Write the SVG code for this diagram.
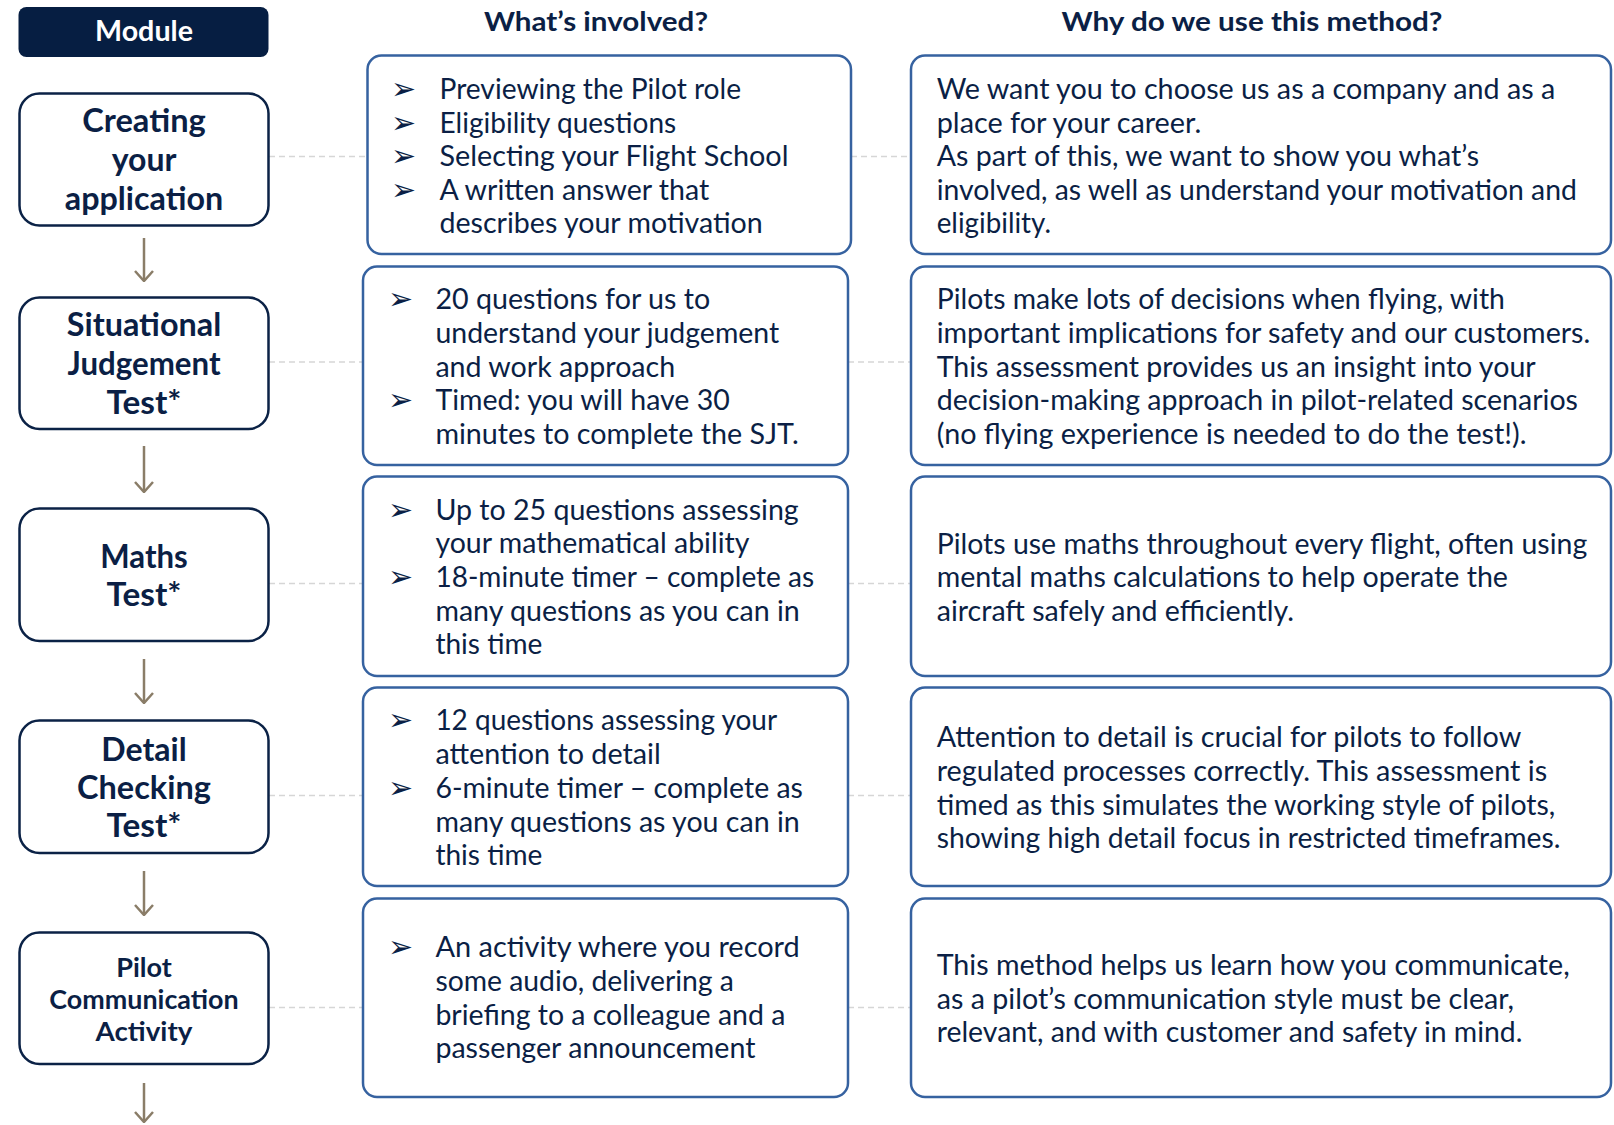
<svg xmlns="http://www.w3.org/2000/svg" width="1614" height="1125" viewBox="0 0 1614 1125">
<defs>
<style>
.bg{fill:#ffffff}
.mod{fill:#061e42}
.lbox{fill:#ffffff;stroke:#0b2246;stroke-width:2.5}
.cbox{fill:#ffffff;stroke:#3662a0;stroke-width:2.5}
.lt{font-family:Lato,"Open Sans","Liberation Sans",sans-serif;font-weight:700;fill:#0b1f45;text-anchor:middle;font-size:32px}
.lts{font-size:26px}
.hd{font-family:Lato,"Open Sans","Liberation Sans",sans-serif;font-weight:700;fill:#0b1f45;text-anchor:middle;font-size:27px}
.mt{font-family:Lato,"Open Sans","Liberation Sans",sans-serif;font-weight:700;fill:#ffffff;text-anchor:middle;font-size:28px}
.t{font-family:Lato,"Open Sans","Liberation Sans",sans-serif;fill:#0b1f45;font-size:28px}
.b{font-family:"DejaVu Sans",sans-serif;fill:#0b1f45;font-size:30px}
.dash{stroke:#d6d6d6;stroke-width:1.5;stroke-dasharray:6 4;fill:none}
.arr{stroke:#8a7d68;stroke-width:2.5;fill:none}
</style>
<marker id="ah" viewBox="0 0 12 20" refX="11" refY="10" markerWidth="12" markerHeight="20" markerUnits="userSpaceOnUse" orient="auto">
<path d="M1,1 L11,10 L1,19" fill="none" stroke="#8a7d68" stroke-width="2.5"/>
</marker>
</defs>
<rect class="bg" x="0" y="0" width="1614" height="1125"/>

<g id="connectors">
<line class="dash" x1="269" y1="156.5" x2="367" y2="156.5"/>
<line class="dash" x1="851" y1="156.5" x2="911" y2="156.5"/>
<line class="dash" x1="269" y1="362" x2="363" y2="362"/>
<line class="dash" x1="848" y1="362" x2="911" y2="362"/>
<line class="dash" x1="269" y1="583.5" x2="363" y2="583.5"/>
<line class="dash" x1="848" y1="583.5" x2="911" y2="583.5"/>
<line class="dash" x1="269" y1="795.5" x2="363" y2="795.5"/>
<line class="dash" x1="848" y1="795.5" x2="911" y2="795.5"/>
<line class="dash" x1="269" y1="1007.5" x2="363" y2="1007.5"/>
<line class="dash" x1="848" y1="1007.5" x2="911" y2="1007.5"/>
<path class="arr" d="M144,238 V281" marker-end="url(#ah)"/>
<path class="arr" d="M144,446 V492" marker-end="url(#ah)"/>
<path class="arr" d="M144,659 V703" marker-end="url(#ah)"/>
<path class="arr" d="M144,871 V915" marker-end="url(#ah)"/>
<path class="arr" d="M144,1083 V1122" marker-end="url(#ah)"/>
</g>

<g id="header-module">
<rect class="mod" x="18.5" y="7" width="250" height="50" rx="8"/>
<text class="mt" x="144" y="41" textLength="98" lengthAdjust="spacingAndGlyphs">Module</text>
</g>
<g id="header-involved">
<text class="hd" x="596" y="31" textLength="224" lengthAdjust="spacingAndGlyphs">What’s involved?</text>
</g>
<g id="header-why">
<text class="hd" x="1252" y="31" textLength="381" lengthAdjust="spacingAndGlyphs">Why do we use this method?</text>
</g>

<g id="module-creating">
<rect class="lbox" x="19.5" y="93.5" width="249" height="132" rx="20"/>
<text class="lt" x="144" y="132" textLength="123.5" lengthAdjust="spacingAndGlyphs">Creating</text>
<text class="lt" x="144" y="170.5">your</text>
<text class="lt" x="144" y="209.5" textLength="158.5" lengthAdjust="spacingAndGlyphs">application</text>
</g>
<g id="module-sjt">
<rect class="lbox" x="19.5" y="297.5" width="249" height="131.5" rx="20"/>
<text class="lt" x="144" y="336" textLength="154.4" lengthAdjust="spacingAndGlyphs">Situational</text>
<text class="lt" x="144" y="375" textLength="153" lengthAdjust="spacingAndGlyphs">Judgement</text>
<text class="lt" x="144" y="413.5" textLength="75" lengthAdjust="spacingAndGlyphs">Test*</text>
</g>
<g id="module-maths">
<rect class="lbox" x="19.5" y="508.5" width="249" height="132.5" rx="20"/>
<text class="lt" x="144" y="568" textLength="87.5" lengthAdjust="spacingAndGlyphs">Maths</text>
<text class="lt" x="144" y="606" textLength="75" lengthAdjust="spacingAndGlyphs">Test*</text>
</g>
<g id="module-detail">
<rect class="lbox" x="19.5" y="720.5" width="249" height="132.5" rx="20"/>
<text class="lt" x="144" y="760.5" textLength="85.4" lengthAdjust="spacingAndGlyphs">Detail</text>
<text class="lt" x="144" y="798.5" textLength="133.8" lengthAdjust="spacingAndGlyphs">Checking</text>
<text class="lt" x="144" y="837" textLength="75" lengthAdjust="spacingAndGlyphs">Test*</text>
</g>
<g id="module-pilot">
<rect class="lbox" x="19.5" y="932.5" width="249" height="131.5" rx="20"/>
<text class="lt lts" x="144" y="977" textLength="55.6" lengthAdjust="spacingAndGlyphs">Pilot</text>
<text class="lt lts" x="144" y="1009" textLength="189.4" lengthAdjust="spacingAndGlyphs">Communication</text>
<text class="lt lts" x="144" y="1041" textLength="96.8" lengthAdjust="spacingAndGlyphs">Activity</text>
</g>

<g id="involved-1">
<rect class="cbox" x="367.5" y="55.5" width="483.5" height="198.5" rx="14"/>
<text class="b" x="391" y="99">➢</text>
<text class="b" x="391" y="132.5">➢</text>
<text class="b" x="391" y="166">➢</text>
<text class="b" x="391" y="199.5">➢</text>
<text class="t" x="439.5" y="99" textLength="301.6" lengthAdjust="spacingAndGlyphs">Previewing the Pilot role</text>
<text class="t" x="439.5" y="132.5" textLength="236.7" lengthAdjust="spacingAndGlyphs">Eligibility questions</text>
<text class="t" x="439.5" y="166" textLength="349" lengthAdjust="spacingAndGlyphs">Selecting your Flight School</text>
<text class="t" x="439.5" y="199.5" textLength="269.7" lengthAdjust="spacingAndGlyphs">A written answer that</text>
<text class="t" x="439.5" y="233" textLength="323.2" lengthAdjust="spacingAndGlyphs">describes your motivation</text>
</g>
<g id="involved-2">
<rect class="cbox" x="363" y="266.5" width="485" height="198.5" rx="14"/>
<text class="b" x="388" y="308.5">➢</text>
<text class="b" x="388" y="409.5">➢</text>
<text class="t" x="435.4" y="308.5" textLength="274.8" lengthAdjust="spacingAndGlyphs">20 questions for us to</text>
<text class="t" x="435.4" y="342.5" textLength="343.8" lengthAdjust="spacingAndGlyphs">understand your judgement</text>
<text class="t" x="435.4" y="376.5" textLength="239.8" lengthAdjust="spacingAndGlyphs">and work approach</text>
<text class="t" x="435.4" y="409.5" textLength="294.4" lengthAdjust="spacingAndGlyphs">Timed: you will have 30</text>
<text class="t" x="435.4" y="443.5" textLength="363.3" lengthAdjust="spacingAndGlyphs">minutes to complete the SJT.</text>
</g>
<g id="involved-3">
<rect class="cbox" x="363" y="476.5" width="485" height="199.5" rx="14"/>
<text class="b" x="388" y="519.5">➢</text>
<text class="b" x="388" y="586.5">➢</text>
<text class="t" x="435.4" y="519.5" textLength="363.3" lengthAdjust="spacingAndGlyphs">Up to 25 questions assessing</text>
<text class="t" x="435.4" y="552.5" textLength="314" lengthAdjust="spacingAndGlyphs">your mathematical ability</text>
<text class="t" x="435.4" y="586.5" textLength="378.8" lengthAdjust="spacingAndGlyphs">18-minute timer – complete as</text>
<text class="t" x="435.4" y="620.5" textLength="364.4" lengthAdjust="spacingAndGlyphs">many questions as you can in</text>
<text class="t" x="435.4" y="653.5" textLength="107" lengthAdjust="spacingAndGlyphs">this time</text>
</g>
<g id="involved-4">
<rect class="cbox" x="363" y="687.5" width="485" height="198.5" rx="14"/>
<text class="b" x="388" y="729.5">➢</text>
<text class="b" x="388" y="797.5">➢</text>
<text class="t" x="435.4" y="729.5" textLength="341.7" lengthAdjust="spacingAndGlyphs">12 questions assessing your</text>
<text class="t" x="435.4" y="763.5" textLength="225.4" lengthAdjust="spacingAndGlyphs">attention to detail</text>
<text class="t" x="435.4" y="797.5" textLength="367.5" lengthAdjust="spacingAndGlyphs">6-minute timer – complete as</text>
<text class="t" x="435.4" y="831.5" textLength="364.4" lengthAdjust="spacingAndGlyphs">many questions as you can in</text>
<text class="t" x="435.4" y="864.5" textLength="107" lengthAdjust="spacingAndGlyphs">this time</text>
</g>
<g id="involved-5">
<rect class="cbox" x="363" y="898.5" width="485" height="198.5" rx="14"/>
<text class="b" x="388" y="957">➢</text>
<text class="t" x="435.4" y="957" textLength="364.4" lengthAdjust="spacingAndGlyphs">An activity where you record</text>
<text class="t" x="435.4" y="991" textLength="298.5" lengthAdjust="spacingAndGlyphs">some audio, delivering a</text>
<text class="t" x="435.4" y="1025" textLength="350" lengthAdjust="spacingAndGlyphs">briefing to a colleague and a</text>
<text class="t" x="435.4" y="1058" textLength="320" lengthAdjust="spacingAndGlyphs">passenger announcement</text>
</g>

<g id="why-1">
<rect class="cbox" x="911" y="55.5" width="700" height="198.5" rx="14"/>
<text class="t" x="936.7" y="99" textLength="618.6" lengthAdjust="spacingAndGlyphs">We want you to choose us as a company and as a</text>
<text class="t" x="936.7" y="132.5" textLength="264.5" lengthAdjust="spacingAndGlyphs">place for your career.</text>
<text class="t" x="936.7" y="166" textLength="542.4" lengthAdjust="spacingAndGlyphs">As part of this, we want to show you what’s</text>
<text class="t" x="936.7" y="199.5" textLength="640.2" lengthAdjust="spacingAndGlyphs">involved, as well as understand your motivation and</text>
<text class="t" x="936.7" y="233" textLength="114.3" lengthAdjust="spacingAndGlyphs">eligibility.</text>
</g>
<g id="why-2">
<rect class="cbox" x="911" y="266.5" width="700" height="198.5" rx="14"/>
<text class="t" x="936.7" y="308.5" textLength="568.2" lengthAdjust="spacingAndGlyphs">Pilots make lots of decisions when flying, with</text>
<text class="t" x="936.7" y="342.5" textLength="653.6" lengthAdjust="spacingAndGlyphs">important implications for safety and our customers.</text>
<text class="t" x="936.7" y="376.5" textLength="599" lengthAdjust="spacingAndGlyphs">This assessment provides us an insight into your</text>
<text class="t" x="936.7" y="409.5" textLength="641.3" lengthAdjust="spacingAndGlyphs">decision-making approach in pilot-related scenarios</text>
<text class="t" x="936.7" y="443.5" textLength="589.8" lengthAdjust="spacingAndGlyphs">(no flying experience is needed to do the test!).</text>
</g>
<g id="why-3">
<rect class="cbox" x="911" y="476.5" width="700" height="199.5" rx="14"/>
<text class="t" x="936.7" y="553.5" textLength="650.5" lengthAdjust="spacingAndGlyphs">Pilots use maths throughout every flight, often using</text>
<text class="t" x="936.7" y="586.5" textLength="571.3" lengthAdjust="spacingAndGlyphs">mental maths calculations to help operate the</text>
<text class="t" x="936.7" y="620.5" textLength="357.2" lengthAdjust="spacingAndGlyphs">aircraft safely and efficiently.</text>
</g>
<g id="why-4">
<rect class="cbox" x="911" y="687.5" width="700" height="198.5" rx="14"/>
<text class="t" x="936.7" y="747" textLength="584.6" lengthAdjust="spacingAndGlyphs">Attention to detail is crucial for pilots to follow</text>
<text class="t" x="936.7" y="781" textLength="610.4" lengthAdjust="spacingAndGlyphs">regulated processes correctly. This assessment is</text>
<text class="t" x="936.7" y="814.5" textLength="618.6" lengthAdjust="spacingAndGlyphs">timed as this simulates the working style of pilots,</text>
<text class="t" x="936.7" y="848" textLength="623.8" lengthAdjust="spacingAndGlyphs">showing high detail focus in restricted timeframes.</text>
</g>
<g id="why-5">
<rect class="cbox" x="911" y="898.5" width="700" height="198.5" rx="14"/>
<text class="t" x="936.7" y="974.5" textLength="633" lengthAdjust="spacingAndGlyphs">This method helps us learn how you communicate,</text>
<text class="t" x="936.7" y="1008.5" textLength="577.4" lengthAdjust="spacingAndGlyphs">as a pilot’s communication style must be clear,</text>
<text class="t" x="936.7" y="1041.5" textLength="585.7" lengthAdjust="spacingAndGlyphs">relevant, and with customer and safety in mind.</text>
</g>
</svg>
